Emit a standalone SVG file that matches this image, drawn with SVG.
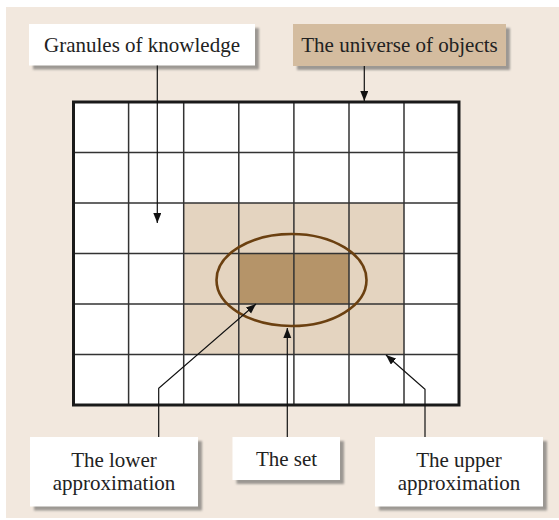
<svg xmlns="http://www.w3.org/2000/svg" width="559" height="520" viewBox="0 0 559 520">
<style>
.lbl{font-family:"Liberation Serif","Times New Roman",serif;font-size:21px;fill:#222;text-anchor:middle}
.shadow{fill:#9c9893}
.box{fill:#ffffff}
.grid{stroke:#333;stroke-width:1.5;fill:none}
.conn{stroke:#111;stroke-width:1.2;fill:none}
</style>
<defs>
<filter id="blur" x="-10%" y="-10%" width="120%" height="130%"><feGaussianBlur stdDeviation="0.8"/></filter>
<marker id="arr" markerUnits="userSpaceOnUse" markerWidth="11" markerHeight="9" refX="10" refY="4" orient="auto"><path d="M0,0 L10,4 L0,8 z" fill="#111"/></marker>
</defs>
<rect x="6" y="7" width="553" height="511" fill="#f2e8de"/>

<g id="grid-universe">
<rect x="73.5" y="102" width="385.5" height="303" fill="#ffffff"/>
<rect id="upper-approx" x="184" y="203" width="220" height="151.5" fill="#e4d4c0"/>
<rect id="lower-approx" x="239" y="253.5" width="110" height="50.5" fill="#b59469"/>
<path class="grid" d="M128.6,102V405M183.7,102V405M238.8,102V405M293.9,102V405M349,102V405M404,102V405M73.5,152.5H459M73.5,203H459M73.5,253.5H459M73.5,304H459M73.5,354.5H459"/>
<rect x="73.5" y="102" width="385.5" height="303" fill="none" stroke="#1a1a1a" stroke-width="3"/>
<ellipse id="the-set" cx="291.5" cy="280" rx="75" ry="46" fill="none" stroke="#6b4010" stroke-width="2.6"/>
</g>

<g id="granules">
<rect class="shadow" x="33" y="28" width="226" height="41.5" filter="url(#blur)"/>
<rect class="box" x="29" y="24" width="226" height="41.5"/>
<text class="lbl" x="142" y="52">Granules of knowledge</text>
</g>

<g id="universe">
<rect class="shadow" x="297" y="28" width="213" height="42" filter="url(#blur)"/>
<rect x="293" y="24" width="213" height="42" fill="#d4bc9f"/>
<text class="lbl" x="399.5" y="52">The universe of objects</text>
</g>

<g id="lower">
<rect class="shadow" x="34" y="441" width="168" height="69.5" filter="url(#blur)"/>
<rect class="box" x="30" y="437" width="168" height="69.5"/>
<text class="lbl" x="114" y="467">The lower</text>
<text class="lbl" x="114" y="490">approximation</text>
</g>

<g id="set">
<rect class="shadow" x="236.5" y="441" width="107.5" height="43" filter="url(#blur)"/>
<rect class="box" x="232.5" y="437" width="107.5" height="43"/>
<text class="lbl" x="286.5" y="465.5">The set</text>
</g>

<g id="upper">
<rect class="shadow" x="379" y="441" width="168" height="69.5" filter="url(#blur)"/>
<rect class="box" x="375" y="437" width="168" height="69.5"/>
<text class="lbl" x="459" y="467">The upper</text>
<text class="lbl" x="459" y="490">approximation</text>
</g>

<g id="connectors">
<path class="conn" d="M157.3,65.5V223" marker-end="url(#arr)"/>
<path class="conn" d="M364.3,66V101" marker-end="url(#arr)"/>
<path class="conn" d="M158.7,437V388.3L256,304" marker-end="url(#arr)"/>
<path class="conn" d="M287.3,437V328" marker-end="url(#arr)"/>
<path class="conn" d="M425,437V389.3L386,355" marker-end="url(#arr)"/>
</g>
</svg>
